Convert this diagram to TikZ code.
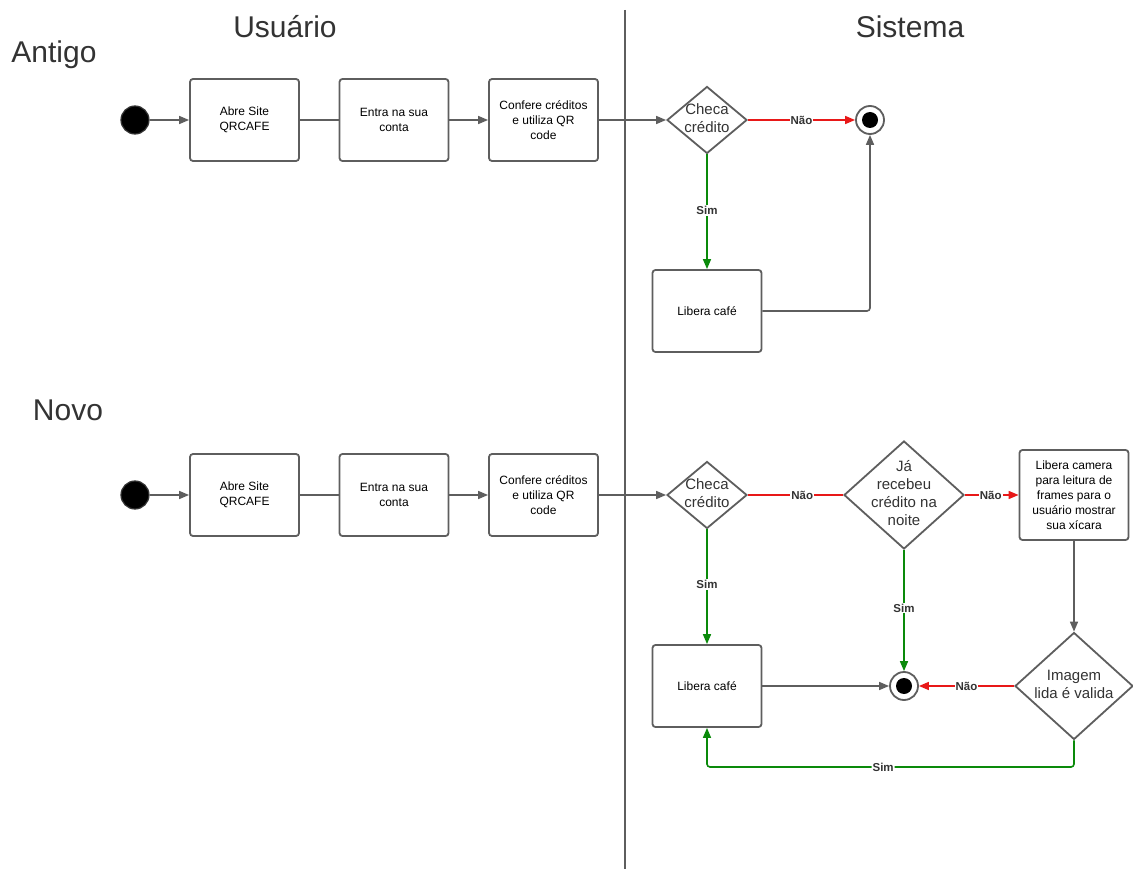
\documentclass[tikz,border=0pt]{standalone}
\usepackage{fontspec}
\setmainfont{Liberation Sans}
\usetikzlibrary{arrows.meta,shapes.geometric,positioning}
\definecolor{lgray}{HTML}{5E5E5E}
\definecolor{tgray}{HTML}{333333}
\definecolor{lgreen}{HTML}{0A8A0A}
\definecolor{lred}{HTML}{E81818}
\tikzset{
  box/.style={draw=lgray, line width=1.8pt, rounded corners=3pt, minimum width=109pt, minimum height=82pt, inner sep=2pt, align=center, font=\fontsize{12}{15}\selectfont, text=black},
  dia/.style={draw=lgray, line width=1.8pt, diamond, inner sep=0pt},
  ditext/.style={align=center, font=\fontsize{15}{18}\selectfont, text=tgray},
  title/.style={font=\fontsize{30}{34}\selectfont, text=tgray},
  conn/.style={draw=lgray, line width=1.6pt},
  arr/.style={conn, -{Triangle[length=10pt,width=8pt]}},
  garr/.style={draw=lgreen, line width=1.6pt, -{Triangle[length=10pt,width=8pt]}},
  rarr/.style={draw=lred, line width=1.6pt, -{Triangle[length=10pt,width=8pt]}},
  rline/.style={draw=lred, line width=1.6pt},
  lab/.style={fill=white, inner sep=1pt, font=\fontsize{11.5}{13}\selectfont\bfseries, text=tgray},
  startc/.style={circle, fill=black, draw=tgray, line width=1.2pt, minimum size=28pt, inner sep=0pt},
  endc/.style={circle, draw=lgray, fill=white, line width=1.8pt, minimum size=28pt, inner sep=0pt, path picture={\fill[black] (path picture bounding box.center) circle (8pt);}},
}
\begin{document}
\begin{tikzpicture}[x=1pt,y=-1pt]
\useasboundingbox[fill=white] (0,0) rectangle (1133,869);
% swimlane divider and titles
\coordinate (lt) at (625,10);
\coordinate (lb) at (625,869);
\draw[conn, line width=2.4pt] (lt) -- (lb);
\node[title] (tu) at (285,27) {Usuário};
\node[title] (ts) at (910,27) {Sistema};
\node[title] (ta) at (54,55) {Antigo};
\node[title] (tn) at (68,410) {Novo};

% ---------- Antigo ----------
\node[startc] (s1) at (135,120) {};
\node[box] (a1) at (244.5,120) {Abre Site\\QRCAFE};
\node[box] (a2) at (394,120) {Entra na sua\\conta};
\node[box] (a3) at (543.5,120) {Confere créditos\\e utiliza QR\\code};
\node[dia, minimum width=80pt, minimum height=67pt] (c1) at (707,120) {};
\node[ditext] (c1t) at (707,118) {Checa\\crédito};
\node[endc] (e1) at (870,120) {};
\node[box] (l1) at (707,311) {Libera café};

\draw[arr] (s1) -- (a1);
\draw[conn] (a1) -- (a2);
\draw[arr] (a2) -- (a3);
\draw[arr] (a3) -- (c1);
\draw[rarr] (c1) -- node[lab, pos=0.5] {Não} (e1);
\draw[garr] (c1) -- node[lab, pos=0.49] {Sim} (l1);
\draw[arr, rounded corners=3pt] (l1.east) -| (e1.south);

% ---------- Novo ----------
\node[startc] (s2) at (135,495) {};
\node[box] (b1) at (244.5,495) {Abre Site\\QRCAFE};
\node[box] (b2) at (394,495) {Entra na sua\\conta};
\node[box] (b3) at (543.5,495) {Confere créditos\\e utiliza QR\\code};
\node[dia, minimum width=80pt, minimum height=67pt] (c2) at (707,495) {};
\node[ditext] (c2t) at (707,493) {Checa\\crédito};
\node[dia, minimum width=120pt, minimum height=108pt] (d2) at (904,495) {};
\node[ditext] (d2t) at (904,493) {Já\\recebeu\\crédito na\\noite};
\node[box, minimum width=109pt, minimum height=90pt] (cam) at (1074,495) {Libera camera\\para leitura de\\frames para o\\usuário mostrar\\sua xícara};
\node[dia, minimum width=118pt, minimum height=107pt] (im) at (1074,686) {};
\node[ditext] (imt) at (1074,684) {Imagem\\lida é valida};
\node[endc] (e2) at (904,686) {};
\node[box] (l2) at (707,686) {Libera café};
\coordinate (bl) at (707,767);
\coordinate (br) at (1074,767);

\draw[arr] (s2) -- (b1);
\draw[conn] (b1) -- (b2);
\draw[arr] (b2) -- (b3);
\draw[arr] (b3) -- (c2);
\draw[rline] (c2) -- node[lab, pos=0.57] {Não} (d2);
\draw[rarr] (d2) -- node[lab, pos=0.48] {Não} (cam);
\draw[garr] (c2) -- node[lab, pos=0.48] {Sim} (l2);
\draw[garr] (d2) -- node[lab, pos=0.48] {Sim} (e2);
\draw[arr] (cam) -- (im);
\draw[rarr] (im) -- node[lab, pos=0.5] {Não} (e2);
\draw[arr] (l2) -- (e2);
\draw[draw=lgreen, line width=1.6pt, rounded corners=3pt, -{Triangle[length=10pt,width=8pt]}] (im.south) -- (br) -- node[lab, pos=0.52] {Sim} (bl) -- (l2.south);
\end{tikzpicture}
\end{document}
